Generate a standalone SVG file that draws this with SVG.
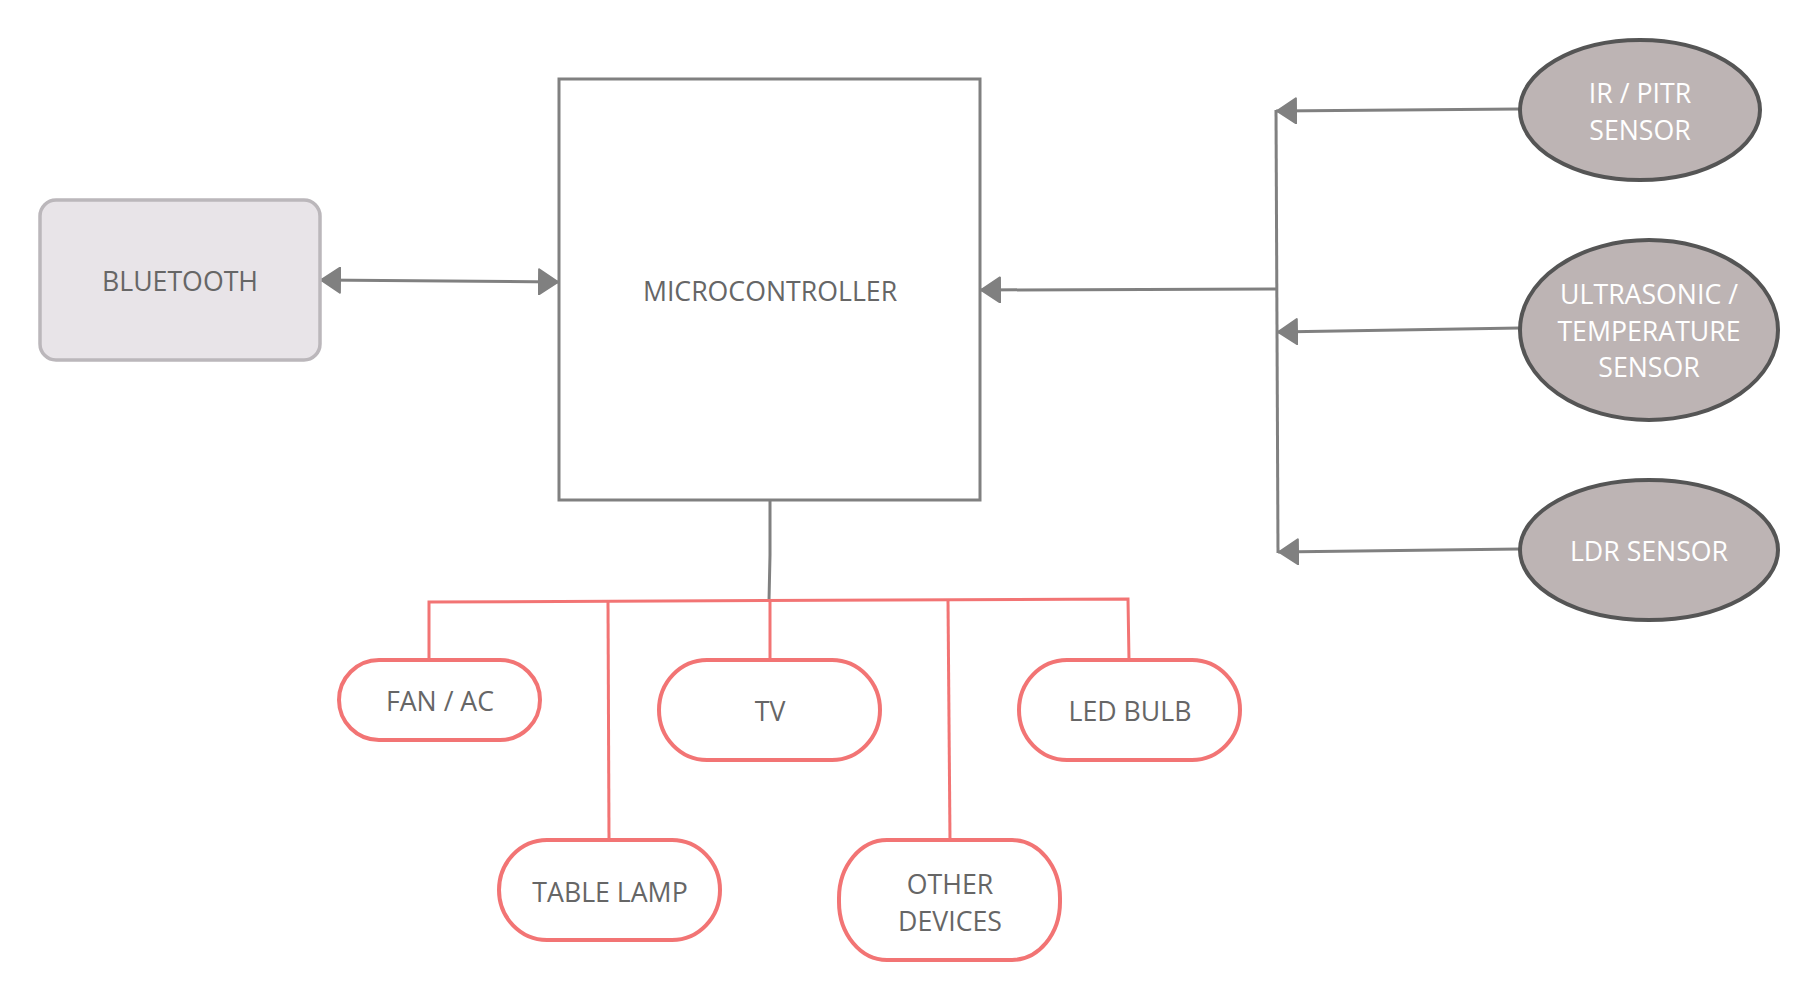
<svg xmlns="http://www.w3.org/2000/svg" width="1820" height="1000" viewBox="0 0 1820 1000">
<style>
  .lbl { font-family: "Open Sans", "Noto Sans", "Liberation Sans", sans-serif; font-size: 26.7px; text-anchor: middle; fill: #666666; }
  .lblw { font-family: "Open Sans", "Noto Sans", "Liberation Sans", sans-serif; font-size: 26.7px; text-anchor: middle; fill: #ffffff; }
  .sensor { fill: #bdb4b4; stroke: #555555; stroke-width: 4; }
  .device { fill: #ffffff; stroke: #f27474; stroke-width: 4; }
  .gray { fill: none; stroke: #808080; stroke-width: 3; }
  .red { fill: none; stroke: #f27474; stroke-width: 3; }
</style>
<defs>
  <marker id="arr" viewBox="0 0 21 27" refX="21" refY="13.5" markerWidth="21" markerHeight="27" markerUnits="userSpaceOnUse" orient="auto-start-reverse">
    <path d="M1,1 L20,13.5 L1,26 Z" fill="#808080" stroke="#808080" stroke-width="2" stroke-linejoin="round"/>
  </marker>
</defs>
<rect x="0" y="0" width="1820" height="1000" fill="#ffffff"/>

<g id="connectors">
  <path class="gray" d="M320,280 L559,282" marker-start="url(#arr)" marker-end="url(#arr)"/>
  <path class="gray" d="M1276,289 L980,290" marker-end="url(#arr)"/>
  <path class="gray" d="M1276,110 L1278,553"/>
  <path class="gray" d="M1520,109 L1276,111" marker-end="url(#arr)"/>
  <path class="gray" d="M1520,328 L1277,332" marker-end="url(#arr)"/>
  <path class="gray" d="M1520,549 L1278,552" marker-end="url(#arr)"/>
  <path class="gray" d="M770,500 L770,555 L769,601"/>
  <path class="red" d="M429,660 L429,602 L1128,599 L1129,660"/>
  <path class="red" d="M770,600 L770,660"/>
  <path class="red" d="M608,601 L609,840"/>
  <path class="red" d="M948,600 L950,840"/>
</g>

<g id="bluetooth">
  <rect x="40" y="200" width="280" height="160" rx="16" ry="16" fill="#e8e4e8" stroke="#bbb7bb" stroke-width="3.5"/>
  <text class="lbl" x="180" y="291">BLUETOOTH</text>
</g>

<g id="microcontroller">
  <rect x="559" y="79" width="421" height="421" fill="#ffffff" stroke="#808080" stroke-width="3"/>
  <text class="lbl" x="770" y="301">MICROCONTROLLER</text>
</g>

<g id="ir-sensor">
  <ellipse class="sensor" cx="1640" cy="110" rx="120" ry="70"/>
  <text class="lblw" x="1640" y="103">IR / PITR</text>
  <text class="lblw" x="1640" y="140">SENSOR</text>
</g>

<g id="ultrasonic-sensor">
  <ellipse class="sensor" cx="1649" cy="330" rx="129" ry="90"/>
  <text class="lblw" x="1649" y="304">ULTRASONIC /</text>
  <text class="lblw" x="1649" y="341">TEMPERATURE</text>
  <text class="lblw" x="1649" y="377">SENSOR</text>
</g>

<g id="ldr-sensor">
  <ellipse class="sensor" cx="1649" cy="550" rx="129" ry="70"/>
  <text class="lblw" x="1649" y="561">LDR SENSOR</text>
</g>

<g id="fan-ac">
  <rect class="device" x="339" y="660" width="201" height="80" rx="40" ry="40"/>
  <text class="lbl" x="440" y="711">FAN / AC</text>
</g>

<g id="tv">
  <rect class="device" x="659" y="660" width="221" height="100" rx="48" ry="50"/>
  <text class="lbl" x="770" y="721">TV</text>
</g>

<g id="led-bulb">
  <rect class="device" x="1019" y="660" width="221" height="100" rx="48" ry="50"/>
  <text class="lbl" x="1130" y="721">LED BULB</text>
</g>

<g id="table-lamp">
  <rect class="device" x="499" y="840" width="221" height="100" rx="48" ry="50"/>
  <text class="lbl" x="610" y="902">TABLE LAMP</text>
</g>

<g id="other-devices">
  <rect class="device" x="839" y="840" width="221" height="120" rx="48" ry="58"/>
  <text class="lbl" x="950" y="894">OTHER</text>
  <text class="lbl" x="950" y="931">DEVICES</text>
</g>
</svg>
